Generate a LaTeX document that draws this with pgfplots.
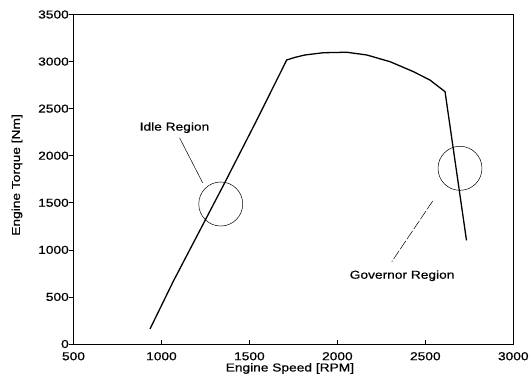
\documentclass[border=0pt]{standalone}
\usepackage{fontspec}
\setmainfont{Liberation Sans}[FakeStretch=1.2, FakeBold=0.6]
\usepackage{pgfplots}
\pgfplotsset{compat=1.18}
\begin{document}
\begin{tikzpicture}
\begin{axis}[
  scale only axis, width=439.8bp, height=329.5bp,
  xmin=500, xmax=3000, ymin=0, ymax=3500,
  xtick={500,1000,...,3000}, ytick={0,500,...,3500},
  axis line style={line width=0.9pt},
  font=\fontsize{11.5}{13}\selectfont,
  /pgf/number format/assume math mode=true,
  /pgf/number format/1000 sep={},
  xtick pos=bottom, ytick pos=left,
  xtick align=inside, ytick align=outside,
  major tick length=4.5bp,
  tick style={line width=0.6pt, black},
  xticklabel style={anchor=north, inner sep=0pt, yshift=-8bp},
  yticklabel style={anchor=east, inner sep=0pt},
  xlabel={Engine Speed [RPM]},
  ylabel={Engine Torque [Nm]},
  xlabel style={at={(axis description cs:0.492,-0.0744)}, anchor=center},
  ylabel style={at={(axis description cs:-0.1285,0.513)}, anchor=center},
]
\addplot[line width=1.3pt, black] coordinates {
  (935,160) (1067,665) (1352,1685) (1541,2375) (1712,3017) (1760,3045) (1816,3070)
  (1920,3094) (2053,3099) (2167,3070) (2299,2999) (2432,2893) (2526,2804)
  (2612,2680) (2734,1100)
};
\draw[line width=0.5pt] (axis cs:1337,1487) ellipse [x radius=125, y radius=234];
\draw[line width=0.5pt] (axis cs:2697,1866) ellipse [x radius=125, y radius=234];
\draw[line width=0.5pt] (axis cs:1103,2190) -- (axis cs:1234,1713);
\draw[line width=0.5pt, dash pattern=on 10bp off 2bp] (axis cs:2542,1519) -- (axis cs:2309,874);
\node[font=\fontsize{11.5}{13}\selectfont] at (axis cs:1074,2298) {Idle Region};
\node[font=\fontsize{11.5}{13}\selectfont] at (axis cs:2368,725) {Governor Region};
\coordinate (sw) at (rel axis cs:0,0);
\coordinate (ne) at (rel axis cs:1,1);
\end{axis}
\pgfresetboundingbox
\path[use as bounding box] ([shift={(-73.5bp,-39bp)}]sw) rectangle ([shift={(17.7bp,14.5bp)}]ne);
\end{tikzpicture}
\end{document}
